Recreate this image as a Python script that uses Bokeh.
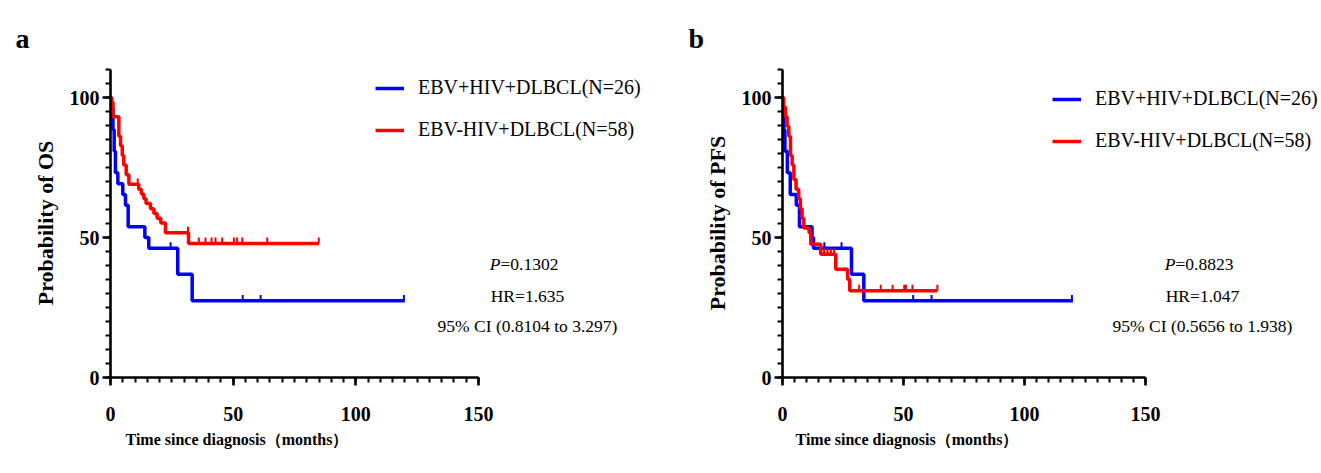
import numpy as np
from bokeh.plotting import figure
from bokeh.models import FixedTicker, Label, Legend, LegendItem, Range1d, Title
from bokeh.layouts import row
from bokeh.embed import file_html
from bokeh.resources import INLINE

# ---------------- data ----------------
# Panel a: overall survival
os_blue_t = [0, 0.5, 1.0, 1.5, 2.0, 3.0, 5.0, 6.1, 7.2, 14.0, 15.6, 27.4, 33.3]
os_blue_s = [100, 96.2, 88.5, 80.8, 73.1, 69.2, 65.4, 61.5, 53.8, 50.0, 46.2, 36.9, 27.4]
os_blue_end = 120
os_blue_cens = [24.5, 53.9, 61.2, 119.6]

os_red_t = [0, 0.4, 1.0, 3.4, 4.1, 4.8, 5.4, 6.4, 7.5, 11.5, 12.6, 13.6, 14.5, 16.3,
            17.7, 19.0, 20.5, 22.4, 31.8]
os_red_s = [100, 98.3, 93.1, 86.2, 82.8, 79.3, 75.9, 72.4, 69.0, 67.2, 65.5, 63.8, 62.1,
            60.3, 58.6, 56.9, 55.2, 51.7, 47.9]
os_red_end = 85
os_red_cens = [11.1, 31.6, 36.0, 38.7, 41.2, 42.8, 45.5, 50.3, 51.6, 53.7, 63.9, 84.9]

# Panel b: progression-free survival
pfs_blue_t = [0, 0.3, 0.6, 1.0, 2.0, 3.2, 5.7, 7.0, 12.2, 12.8, 28.5, 33.6]
pfs_blue_s = [100, 96.2, 88.5, 80.8, 73.1, 65.4, 61.5, 53.8, 50.0, 46.2, 36.9, 27.4]
pfs_blue_end = 120
pfs_blue_cens = [17.3, 24.4, 54.0, 61.6, 119.6]

pfs_red_t = [0, 0.5, 1.2, 1.9, 2.6, 3.3, 4.0, 4.7, 5.6, 6.7, 7.4, 8.1, 8.8, 11.0, 11.7,
             15.8, 22.0, 26.9, 27.8]
pfs_red_s = [100, 96.6, 93.1, 89.7, 86.2, 79.3, 75.9, 70.7, 67.2, 63.8, 60.3, 56.9, 53.4,
             51.7, 47.6, 44.0, 38.7, 35.1, 31.0]
pfs_red_end = 64
pfs_red_cens = [17.2, 18.6, 20.0, 21.3, 31.7, 40.6, 45.5, 50.3, 51.0, 53.7, 64.0]

series_names = ["EBV+HIV+DLBCL(N=26)", "EBV-HIV+DLBCL(N=58)"]
series_colors = ["#0000FF", "#FF0000"]

x_ticks = [0, 50, 100, 150]
y_ticks = [0, 50, 100]

stats_a = ["=0.1302", "HR=1.635", "95% CI (0.8104 to 3.297)"]
stats_b = ["=0.8823", "HR=1.047", "95% CI (0.5656 to 1.938)"]
x_title = "Time since diagnosis（months）"

SERIF = "Liberation Serif"
TOP = 68       # frame top (y = 110)
BOTTOM = 93    # space below frame
HEIGHT = 470


def panel(width, border_left, px_per_x, px_per_y, ylabel, curves, stats,
          letter, legend_xy, stats_cx, letter_off, xtitle_off):
    frame_w = width - border_left
    frame_h = HEIGHT - TOP - BOTTOM
    p = figure(width=width, height=HEIGHT, output_backend="svg", toolbar_location=None,
               x_range=Range1d(0, frame_w / px_per_x), y_range=Range1d(0, frame_h / px_per_y),
               min_border_left=border_left, min_border_right=0, min_border_top=TOP,
               min_border_bottom=BOTTOM, title=letter)
    p.title.align = "left"
    p.title.offset = letter_off
    p.title.standoff = 30
    p.title.text_line_height = 1.0
    p.title.text_font = SERIF
    p.title.text_font_style = "bold"
    p.title.text_font_size = "28px"
    p.title.text_color = "black"
    p.xgrid.visible = False
    p.ygrid.visible = False
    p.outline_line_color = None
    p.background_fill_color = "white"

    for ax, ticks, bounds, top in ((p.xaxis, x_ticks, (0, 150), 150), (p.yaxis, y_ticks, (0, 110), 110)):
        ax.ticker = FixedTicker(ticks=ticks, minor_ticks=list(range(0, top + 1, 5)))
        ax.bounds = bounds
        ax.axis_line_width = 2.6
        ax.axis_line_color = "black"
        ax.major_tick_line_width = 2.6
        ax.major_tick_line_color = "black"
        ax.minor_tick_line_width = 2
        ax.minor_tick_line_color = "black"
        ax.major_tick_in = 0
        ax.major_tick_out = 8
        ax.minor_tick_in = 0
        ax.minor_tick_out = 5
        ax.major_label_text_font = SERIF
        ax.major_label_text_font_style = "bold"
        ax.major_label_text_font_size = "20px"
        ax.major_label_text_color = "black"
        ax.axis_label_text_font = SERIF
        ax.axis_label_text_font_style = "bold"
        ax.axis_label_text_color = "black"
    p.yaxis.axis_label = ylabel
    p.yaxis.axis_label_text_font_size = "22px"
    p.xaxis.major_label_standoff = 21
    p.yaxis.major_label_standoff = 3
    p.yaxis.axis_label_standoff = 9

    # x-axis title, placed below the axis and offset like the reference
    p.add_layout(Title(text=x_title, align="left", offset=xtitle_off, standoff=11,
                       text_font=SERIF, text_font_style="bold", text_font_size="16px",
                       text_color="black"), "below")

    items = []
    tick_off = 2.9 / px_per_y
    for (t, s, end, cens), name, color in zip(curves, series_names, series_colors):
        xs = list(t) + [end]
        ys = list(s) + [s[-1]]
        ln = p.step(xs, ys, mode="after", line_color=color, line_width=3.5)
        idx = np.searchsorted(np.array(t), np.array(cens), side="right") - 1
        cy = np.array(s)[idx] + tick_off
        sc = p.scatter(cens, cy, marker="dash", angle=np.pi / 2, size=6,
                       line_color=color, line_width=2, fill_color=color)
        items.append(LegendItem(label=name, renderers=[ln, sc]))

    leg = Legend(items=items, location=legend_xy, border_line_color=None,
                 background_fill_alpha=0, padding=0, margin=0, spacing=19,
                 glyph_width=29, glyph_height=22, label_height=22, label_standoff=14,
                 label_text_font=SERIF, label_text_font_size="20px",
                 label_text_color="black")
    p.add_layout(leg)

    # stats block, centred at stats_cx (screen px from frame left)
    y_lines = [114, 82, 52]  # px above frame bottom
    cx = stats_cx / px_per_x
    sx = cx - 27 / px_per_x
    p.add_layout(Label(x=sx, y=y_lines[0] / px_per_y, text="P",
                       text_font=SERIF, text_font_style="italic", text_font_size="17.5px",
                       text_align="right", text_baseline="middle", text_color="black"))
    p.add_layout(Label(x=sx, y=y_lines[0] / px_per_y, text=stats[0],
                       text_font=SERIF, text_font_size="17.5px",
                       text_align="left", text_baseline="middle", text_color="black"))
    for txt, yy in zip(stats[1:], y_lines[1:]):
        p.add_layout(Label(x=cx, y=yy / px_per_y, text=txt, text_font=SERIF,
                           text_font_size="17.5px", text_align="center",
                           text_baseline="middle", text_color="black"))
    return p


pa = panel(660, 110, 2.453, 2.8, "Probability of OS",
           [(os_blue_t, os_blue_s, os_blue_end, os_blue_cens),
            (os_red_t, os_red_s, os_red_end, os_red_cens)],
           stats_a, "a", (265, 236), 417, -95, 15)
pb = panel(661, 122, 2.42, 2.8, "Probability of PFS",
           [(pfs_blue_t, pfs_blue_s, pfs_blue_end, pfs_blue_cens),
            (pfs_red_t, pfs_red_s, pfs_red_end, pfs_red_cens)],
           stats_b, "b", (270, 225), 420, -94, 13)

layout = row(pa, pb)
open("out.html", "w").write(file_html(layout, INLINE))
